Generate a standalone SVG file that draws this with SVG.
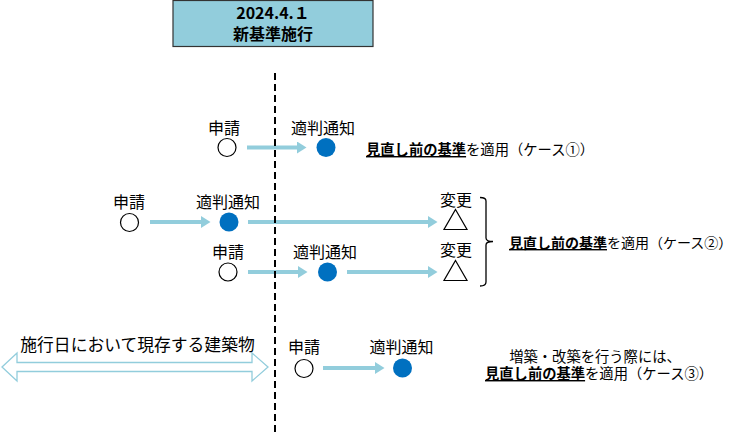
<svg xmlns="http://www.w3.org/2000/svg" width="732" height="432" viewBox="0 0 732 432">
<defs>
<style>
text{font-family:"Noto Sans CJK JP","Noto Sans",sans-serif;fill:#000;}
.lbl{font-size:16px;text-anchor:middle;}
.cap{font-size:14.3px;}
.hd{font-size:16px;font-weight:bold;text-anchor:middle;}
.b{font-weight:bold;text-decoration:underline;}
.open{fill:#fff;stroke:#000;stroke-width:1.2;}
.done{fill:#0070C0;}
.tri{fill:#fff;stroke:#000;stroke-width:1.2;}
.arr{stroke:#92CDDC;stroke-width:4;fill:none;marker-end:url(#ah);}
</style>
<marker id="ah" markerUnits="userSpaceOnUse" markerWidth="10" markerHeight="12" refX="0" refY="6" orient="auto" viewBox="0 0 10 12">
<path d="M0,0 L9.5,6 L0,12 z" fill="#92CDDC"/>
</marker>
</defs>
<rect width="732" height="432" fill="#fff"/>

<g id="header">
<rect x="173" y="0.5" width="200" height="46" fill="#92CDDC" stroke="#333" stroke-width="1.2"/>
<text class="hd"><tspan x="273" y="19">2024.4.１</tspan><tspan x="273" y="39.5">新基準施行</tspan></text>
</g>

<g id="connectors">
<line class="arr" x1="247" y1="147.5" x2="297" y2="147.5"/>
<line class="arr" x1="150" y1="222" x2="201" y2="222"/>
<line class="arr" x1="248" y1="222" x2="428" y2="222"/>
<line class="arr" x1="248" y1="272" x2="298" y2="272"/>
<line class="arr" x1="347" y1="272" x2="428" y2="272"/>
<line class="arr" x1="323" y1="368" x2="375" y2="368"/>
<polygon points="2,367 17,353 17,362.5 252,362.5 252,353 268,367 252,381 252,371.5 17,371.5 17,381" fill="#fff" stroke="#92CDDC" stroke-width="1.3"/>
<path d="M480,197.5 Q486,197.5 486,201 L486,238 Q486,241.5 493,241.5 Q486,241.5 486,245 L486,282 Q486,286 480,286" fill="none" stroke="#000" stroke-width="1.3"/>
<line x1="275" y1="73" x2="275" y2="432" stroke="#000" stroke-width="2" stroke-dasharray="7,4"/>
</g>

<g id="case1">
<text class="lbl" x="224" y="134">申請</text>
<circle class="open" cx="227" cy="147.5" r="9"/>
<text class="lbl" x="323" y="134">適判通知</text>
<circle class="done" cx="326" cy="147.5" r="9.5"/>
<text class="cap" x="366" y="155"><tspan class="b">見直し前の基準</tspan>を適用（ケース①）</text>
</g>

<g id="case2a">
<text class="lbl" x="129" y="208">申請</text>
<circle class="open" cx="129.5" cy="222.5" r="9"/>
<text class="lbl" x="228" y="208">適判通知</text>
<circle class="done" cx="229" cy="222" r="9.5"/>
<text class="lbl" x="456" y="206">変更</text>
<polygon class="tri" points="455.5,209.5 467,229.5 444,229.5"/>
</g>

<g id="case2b">
<text class="lbl" x="228" y="258">申請</text>
<circle class="open" cx="228" cy="272" r="9"/>
<text class="lbl" x="325" y="258">適判通知</text>
<circle class="done" cx="327.5" cy="272" r="9.5"/>
<text class="lbl" x="456" y="256">変更</text>
<polygon class="tri" points="455.5,260.5 467,280.5 444,280.5"/>
<text class="cap" x="509" y="248" style="font-size:14px"><tspan class="b">見直し前の基準</tspan>を適用（ケース②）</text>
</g>

<g id="case3">
<text class="lbl" x="137.5" y="351" style="font-size:16.8px">施行日において現存する建築物</text>
<text class="lbl" x="304" y="353">申請</text>
<circle class="open" cx="304" cy="368.5" r="9"/>
<text class="lbl" x="401.5" y="353">適判通知</text>
<circle class="done" cx="402.5" cy="368" r="9.5"/>
<text class="cap" x="595" y="361.5" text-anchor="middle">増築・改築を行う際には、</text>
<text class="cap" x="485" y="379"><tspan class="b">見直し前の基準</tspan>を適用（ケース③）</text>
</g>
</svg>
